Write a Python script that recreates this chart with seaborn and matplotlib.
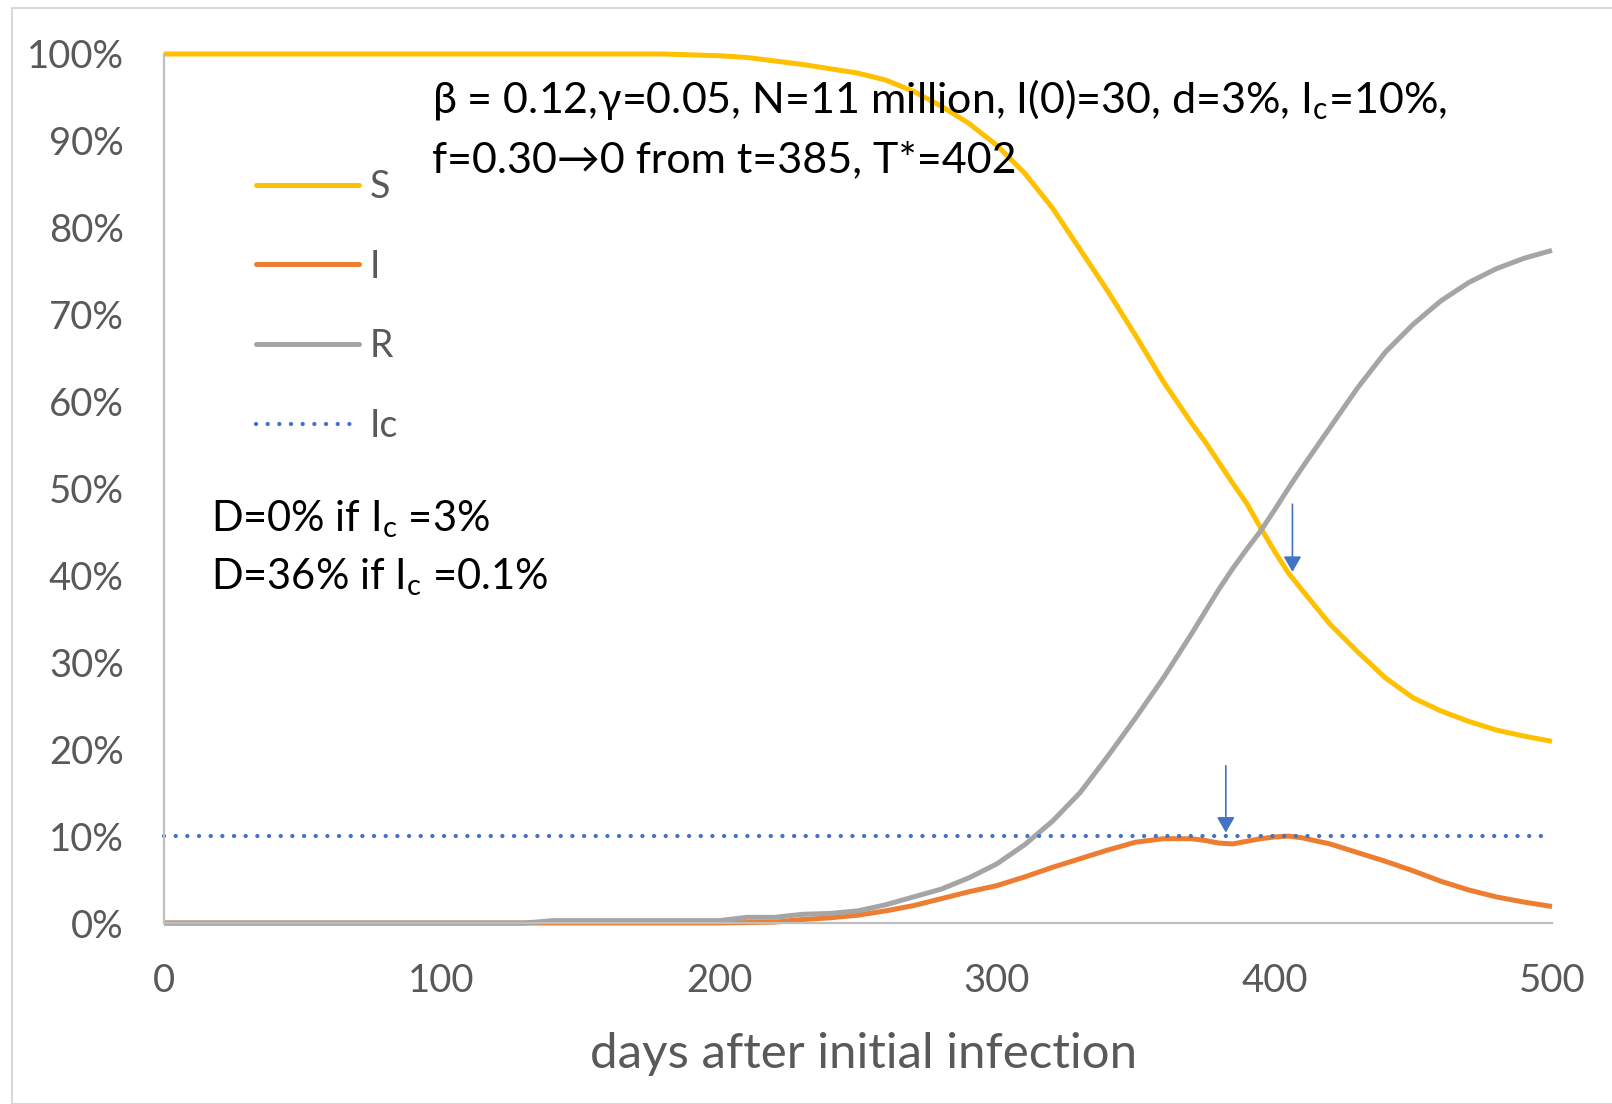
import matplotlib
matplotlib.use("Agg")
import matplotlib.pyplot as plt
import seaborn as sns
import pandas as pd
from matplotlib.lines import Line2D
from matplotlib.patches import Rectangle

# ---------------- data ----------------
days = [0, 50, 100, 130, 140, 150, 180, 200, 210, 220, 230, 240, 250, 260, 270,
        280, 290, 300, 310, 320, 330, 340, 350, 360, 370, 375, 380, 385, 390,
        395, 400, 405, 410, 420, 430, 440, 450, 460, 470, 480, 490, 500]
S_pct = [100, 100, 100, 100, 100, 100, 100, 99.8, 99.6, 99.2, 98.8, 98.3, 97.8,
         97.0, 95.7, 94.0, 92.0, 89.5, 86.3, 82.3, 77.5, 72.7, 67.6, 62.3, 57.6,
         55.4, 53.0, 50.6, 48.3, 45.5, 42.8, 40.3, 38.3, 34.4, 31.2, 28.2, 25.9,
         24.4, 23.2, 22.2, 21.5, 20.9]
I_pct = [0, 0, 0, 0, 0, 0, 0, 0, 0.05, 0.1, 0.4, 0.6, 0.9, 1.4, 2.0, 2.8, 3.6,
         4.3, 5.3, 6.4, 7.4, 8.4, 9.3, 9.7, 9.7, 9.5, 9.2, 9.1, 9.4, 9.7, 9.9,
         10.0, 9.8, 9.1, 8.1, 7.1, 6.0, 4.8, 3.8, 3.0, 2.4, 1.9]
R_pct = [0, 0, 0, 0, 0.27, 0.27, 0.27, 0.27, 0.65, 0.65, 1.0, 1.1, 1.4, 2.1,
         3.0, 3.9, 5.2, 6.8, 9.0, 11.7, 15.0, 19.2, 23.6, 28.2, 33.2, 35.8,
         38.4, 40.8, 43.0, 45.1, 47.5, 50.0, 52.4, 57.0, 61.6, 65.7, 68.9,
         71.6, 73.7, 75.3, 76.5, 77.4]
IC_LEVEL = 10
series_names = ["S", "I", "R", "Ic"]
series_colors = ["#FFC000", "#ED7D31", "#A5A5A5", "#4472C4"]

x_ticks = [0, 100, 200, 300, 400, 500]
y_ticks = list(range(0, 101, 10))
y_tick_labels = [f"{v}%" for v in y_ticks]

# arrows: (day, tail %, tip %)
arrow_day = [382.5, 406.5]
arrow_tail = [18.1, 48.2]
arrow_tip = [10.4, 40.4]

note_top = ["β = 0.12,γ=0.05, N=11 million, I(0)=30, d=3%, I$_\\mathregular{c}$=10%,",
            "f=0.30→0 from t=385, T*=402"]
note_left = ["D=0% if I$_\\mathregular{c}$ =3%",
             "D=36% if I$_\\mathregular{c}$ =0.1%"]
x_label = "days after initial infection"

# ---------------- style ----------------
sns.set_theme(style="white")
plt.rcParams["font.family"] = ["Lato", "DejaVu Sans"]
plt.rcParams["mathtext.fontset"] = "custom"
plt.rcParams["mathtext.rm"] = "Lato"
plt.rcParams["mathtext.it"] = "Lato:italic"

W, H = 1612, 1104
fig = plt.figure(figsize=(W / 100, H / 100), dpi=100)
fig.patch.set_facecolor("white")
# chart border (Excel chart area)
fig.add_artist(Rectangle((12 / W, 0), 1.0, (H - 8) / H, transform=fig.transFigure,
                         fill=False, edgecolor="#D9D9D9", lw=1.5))

L, R_, T, B = 164, 1552, 54, 923
ax = fig.add_axes([L / W, 1 - B / H, (R_ - L) / W, (B - T) / H])

df = pd.DataFrame({"day": days, "S": S_pct, "I": I_pct, "R": R_pct})
df["Ic"] = IC_LEVEL

lw = 3.6
dot_lw = 3.1
dot_style = (0, (0.01, 2.7))
for name, col in zip(["S", "I", "R"], series_colors[:3]):
    sns.lineplot(data=df, x="day", y=name, ax=ax, color=col, lw=lw,
                 estimator=None, sort=True, legend=False, clip_on=False,
                 solid_capstyle="butt")
sns.lineplot(data=df, x="day", y="Ic", ax=ax, color=series_colors[3], lw=dot_lw,
             estimator=None, legend=False, clip_on=False,
             linestyle=dot_style, dash_capstyle="round")

ax.set_xlim(0, 500)
ax.set_ylim(0, 100)
ax.set_xticks(x_ticks)
ax.set_xticklabels([str(v) for v in x_ticks])
ax.set_yticks(y_ticks)
ax.set_yticklabels(y_tick_labels)

for s in ["top", "right"]:
    ax.spines[s].set_visible(False)
for s in ["left", "bottom"]:
    ax.spines[s].set_color("#BFBFBF")
    ax.spines[s].set_linewidth(1.6)
ax.tick_params(axis="x", direction="in", length=10.5, width=1.2, color="#BFBFBF",
               labelsize=27.5, labelcolor="#595959", pad=29)
ax.tick_params(axis="y", direction="in", length=8, width=1.2, color="#BFBFBF",
               labelsize=27.5, labelcolor="#595959", pad=29)
ax.set_ylabel("")
ax.set_xlabel(x_label, fontsize=35.5, color="#595959")
ax.xaxis.set_label_coords(0.504, -0.126)

# legend
handles = [Line2D([], [], color=series_colors[0], lw=lw, solid_capstyle="round"),
           Line2D([], [], color=series_colors[1], lw=lw, solid_capstyle="round"),
           Line2D([], [], color=series_colors[2], lw=lw, solid_capstyle="round"),
           Line2D([], [], color=series_colors[3], lw=dot_lw, linestyle=dot_style,
                  dash_capstyle="round")]
leg = ax.legend(handles, series_names, loc="upper left",
                bbox_to_anchor=(0.066, 0.868), frameon=False, fontsize=27,
                handlelength=2.75, handletextpad=0.3, labelspacing=1.17,
                borderpad=0, borderaxespad=0)
for t in leg.get_texts():
    t.set_color("#595959")

# notes
fs_note = 31
ax.text((432 - L) / (R_ - L), (B - 100) / (B - T), note_top[0], transform=ax.transAxes,
        fontsize=fs_note, color="black", va="center", ha="left")
ax.text((432 - L) / (R_ - L), (B - 160) / (B - T), note_top[1], transform=ax.transAxes,
        fontsize=fs_note, color="black", va="center", ha="left")
ax.text((211 - L) / (R_ - L), (B - 519) / (B - T), note_left[0], transform=ax.transAxes,
        fontsize=30, color="black", va="center", ha="left")
ax.text((211 - L) / (R_ - L), (B - 577) / (B - T), note_left[1], transform=ax.transAxes,
        fontsize=30, color="black", va="center", ha="left")

for d, t0, t1 in zip(arrow_day, arrow_tail, arrow_tip):
    ax.annotate("", xy=(d, t1), xytext=(d, t0),
                arrowprops=dict(arrowstyle="-|>,head_length=0.47,head_width=0.27",
                                color=series_colors[3], lw=1.2, shrinkA=0, shrinkB=0,
                                mutation_scale=20))

fig.savefig("out.png", dpi=100)
